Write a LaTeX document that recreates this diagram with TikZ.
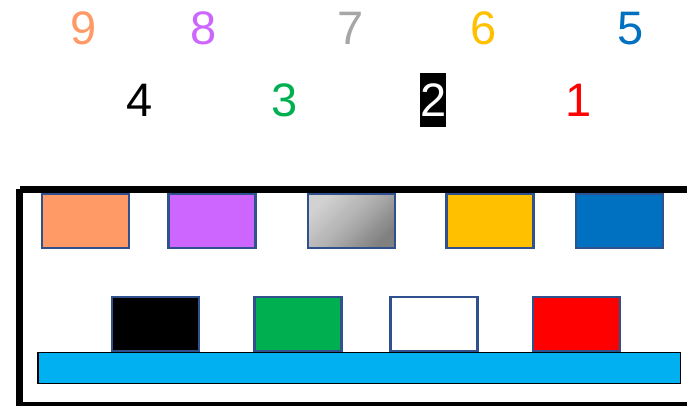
\documentclass[tikz,border=0pt]{standalone}
\usepackage{fontspec}
\setmainfont{Liberation Sans}
\definecolor{cSalmon}{HTML}{FF9966}
\definecolor{cPurple}{HTML}{CC66FF}
\definecolor{cGrayTxt}{HTML}{A6A6A6}
\definecolor{cOrange}{HTML}{FFC000}
\definecolor{cBlue}{HTML}{0070C0}
\definecolor{cGreen}{HTML}{00B050}
\definecolor{cRed}{HTML}{FF0000}
\definecolor{cBar}{HTML}{00B0F0}
\definecolor{cEdge}{HTML}{2F528F}
\definecolor{cGrayA}{HTML}{D2D2D2}
\definecolor{cGrayB}{HTML}{B0B0B0}
\definecolor{cGrayC}{HTML}{808080}
\begin{document}
\begin{tikzpicture}[x=1pt,y=-1pt,
  digit/.style={anchor=base,inner sep=0pt,font=\fontsize{47}{50}\selectfont},
  swatch/.style={draw=cEdge,line width=2.2pt,minimum width=87pt,minimum height=54.6pt,inner sep=0pt},
  frameline/.style={draw=black,line width=7pt}]
\clip (0,0) rectangle (687,405);
\useasboundingbox (0,0) rectangle (687,405);
% numbers, top row
\node[digit,text=cSalmon] (n9) at (83.7,44.3) {9};
\node[digit,text=cPurple] (n8) at (203.7,44.3) {8};
\node[digit,text=cGrayTxt] (n7) at (350.5,44.3) {7};
\node[digit,text=cOrange] (n6) at (483.7,44.3) {6};
\node[digit,text=cBlue] (n5) at (630.3,44.3) {5};
% numbers, bottom row
\node[digit,text=black] (n4) at (139.5,116.7) {4};
\node[digit,text=cGreen] (n3) at (285,116.7) {3};
\node[digit,text=white,fill=black,text height=43.7pt,text depth=10.3pt] (n2) at (433.4,116.7) {2};
\node[digit,text=cRed] (n1) at (578.2,116.7) {1};
% frame
\draw[frameline] (19.5,189) -- (700,189) (19.5,189) -- (19.5,405.5) -- (700,405.5);
% bar
\node[draw=black,line width=1.5pt,fill=cBar,minimum width=642.5pt,minimum height=31pt,inner sep=0pt] (bar) at (359.3,368) {};
% top swatches
\node[swatch,fill=cSalmon] (s9) at (85.5,221) {};
\node[swatch,fill=cPurple] (s8) at (212,221) {};
\node[swatch,top color=cGrayA,bottom color=cGrayC,middle color=cGrayB,shading angle=45] (s7) at (351.2,221) {};
\node[swatch,fill=cOrange] (s6) at (490,221) {};
\node[swatch,fill=cBlue] (s5) at (619.3,221) {};
% bottom swatches
\node[swatch,fill=black] (s4) at (155.5,324) {};
\node[swatch,fill=cGreen] (s3) at (298,324) {};
\node[swatch,fill=white] (s2) at (434,324) {};
\node[swatch,fill=cRed] (s1) at (576.8,324) {};
\end{tikzpicture}
\end{document}
